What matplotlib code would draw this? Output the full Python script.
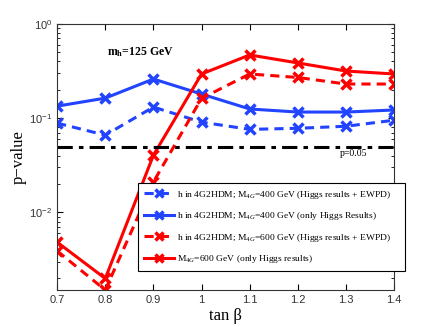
import matplotlib
matplotlib.use('Agg')
import matplotlib.pyplot as plt
from matplotlib.ticker import LogLocator, NullFormatter

tanb = [0.7, 0.8, 0.9, 1.0, 1.1, 1.2, 1.3, 1.4]
blue_ewpd = [0.0885, 0.066, 0.131, 0.0906, 0.076, 0.078, 0.082, 0.095]
blue_higgs = [0.134, 0.163, 0.26, 0.18, 0.125, 0.116, 0.116, 0.122]
red_ewpd = [0.0039, 0.0015, 0.021, 0.162, 0.294, 0.27, 0.23, 0.23]
red_higgs = [0.00483, 0.00199, 0.0404, 0.294, 0.468, 0.385, 0.316, 0.294]
p_cut = 0.05

labels = [
    r'h in 4G2HDM; M$_{4G}$=400 GeV (Higgs results + EWPD)',
    r'h in 4G2HDM; M$_{4G}$=400 GeV (only Higgs Results)',
    r'h in 4G2HDM; M$_{4G}$=600 GeV (Higgs results + EWPD)',
    r'M$_{4G}$=600 GeV (only Higgs results)',
]

plt.rcParams['mathtext.fontset'] = 'custom'
plt.rcParams['mathtext.rm'] = 'Liberation Serif'
plt.rcParams['mathtext.it'] = 'Liberation Serif:italic'
plt.rcParams['mathtext.bf'] = 'Liberation Serif:bold'

blue = '#2244ff'
red = '#ff0000'

fig = plt.figure(figsize=(4.36, 3.27), dpi=100)
ax = fig.add_axes([0.131, 0.113, 0.773, 0.814])

kw = dict(marker='x', ms=7, mew=2.5, lw=2.2)
ax.plot(tanb, blue_ewpd, color=blue, ls='--', dashes=(3, 2), label=labels[0], **kw)
ax.plot(tanb, blue_higgs, color=blue, ls='-', label=labels[1], **kw)
ax.plot(tanb, red_ewpd, color=red, ls='--', dashes=(3, 2), label=labels[2], **kw)
ax.plot(tanb, red_higgs, color=red, ls='-', label=labels[3], **kw)
ax.axhline(p_cut, color='black', lw=2.2, ls='-.', dashes=(5, 2, 1.5, 2))

ax.set_yscale('log')
ax.set_xlim(0.7, 1.4)
ax.set_ylim(0.0015, 1.0)
ax.set_xticks(tanb)
ax.set_xticklabels(['0.7', '0.8', '0.9', '1', '1.1', '1.2', '1.3', '1.4'])
ax.yaxis.set_major_locator(LogLocator(base=10, numticks=10))
ax.yaxis.set_minor_locator(LogLocator(base=10, subs=range(2, 10), numticks=10))
ax.yaxis.set_minor_formatter(NullFormatter())
ax.tick_params(which='both', direction='in', top=True, right=True, labelsize=8,
               labelcolor='#333333')
ax.tick_params(which='major', length=4)
ax.tick_params(which='minor', length=2)
for lab in ax.get_xticklabels() + ax.get_yticklabels():
    lab.set_family('Liberation Sans')
for sp in ax.spines.values():
    sp.set_linewidth(0.8)
    sp.set_color('#333333')

ax.set_xlabel('tan \u03b2', family='Liberation Serif', fontsize=12, labelpad=2)
ax.set_ylabel('p\u2212value', family='Liberation Serif', fontsize=12, labelpad=2)

ax.text(0.873, 0.5, r'$\mathbf{m_h}$=125 GeV', family='Liberation Serif', fontsize=8.5,
        fontweight='bold', ha='center', va='center')
ax.text(1.315, 0.0424, 'p=0.05', family='Liberation Serif', fontsize=7,
        ha='center', va='center')

leg = ax.legend(loc='upper left', bbox_to_anchor=(0.24, 0.0, 0.793, 0.402), mode='expand',
                borderaxespad=0, prop={'family': 'Liberation Serif', 'size': 6.8},
                frameon=True, fancybox=False, edgecolor='black', framealpha=1,
                handlelength=3.2, borderpad=0.6, labelspacing=1.0, handletextpad=0.3,
                markerscale=0.85)
leg.get_frame().set_linewidth(0.8)

fig.savefig('out.png', dpi=100)
